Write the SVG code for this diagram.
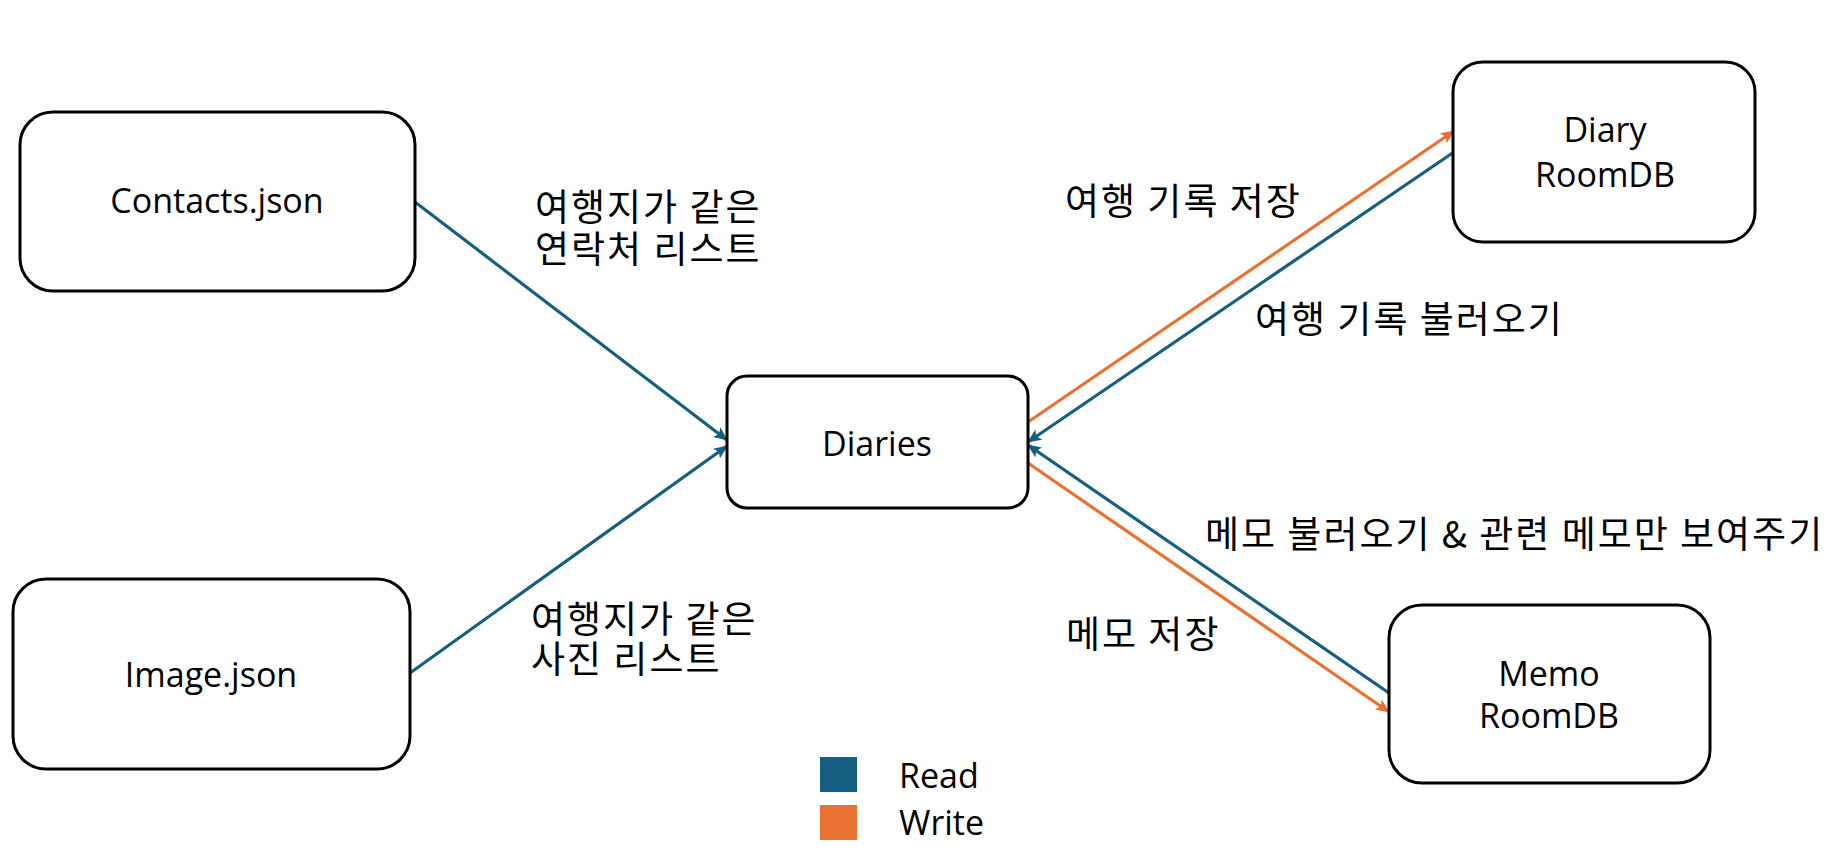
<svg xmlns="http://www.w3.org/2000/svg" width="1833" height="866" viewBox="0 0 1833 866">
<style>
.box{fill:#fff;stroke:#000;stroke-width:3}
.nt{font-family:"Open Sans","Noto Sans",sans-serif;font-size:34px;fill:#000;text-anchor:middle}
.lb{font-family:"Noto Sans CJK KR","Noto Sans",sans-serif;font-size:37px;letter-spacing:2px;fill:#000}
.lg{font-family:"Open Sans","Noto Sans",sans-serif;font-size:34px;fill:#000}
.rd{stroke:#156082;stroke-width:3.2;fill:none}
.wr{stroke:#E97132;stroke-width:3.2;fill:none}
</style>
<defs>
<marker id="ab" markerUnits="userSpaceOnUse" markerWidth="14" markerHeight="12" refX="13" refY="6" orient="auto">
<path d="M0,0 L14,6 L0,12 L3,6 z" fill="#156082"/>
</marker>
<marker id="ao" markerUnits="userSpaceOnUse" markerWidth="14" markerHeight="12" refX="13" refY="6" orient="auto">
<path d="M0,0 L14,6 L0,12 L3,6 z" fill="#E97132"/>
</marker>
</defs>
<rect width="1833" height="866" fill="#fff"/>
<g id="connectors">
<line class="rd" x1="415" y1="202" x2="727" y2="440" marker-end="url(#ab)"/>
<line class="rd" x1="410" y1="673" x2="727" y2="446" marker-end="url(#ab)"/>
<line class="wr" x1="1028" y1="422" x2="1454" y2="131" marker-end="url(#ao)"/>
<line class="rd" x1="1454" y1="152" x2="1028" y2="442" marker-end="url(#ab)"/>
<line class="rd" x1="1389" y1="693" x2="1028" y2="445" marker-end="url(#ab)"/>
<line class="wr" x1="1028" y1="463" x2="1389" y2="712" marker-end="url(#ao)"/>
</g>
<g id="contacts">
<rect class="box" x="20" y="112" width="395" height="179" rx="33"/>
<text class="nt" x="217" y="213">Contacts.json</text>
</g>
<g id="image">
<rect class="box" x="13" y="579" width="397" height="190" rx="33"/>
<text class="nt" x="211" y="687">Image.json</text>
</g>
<g id="diaries">
<rect class="box" x="727" y="376" width="301" height="132" rx="20"/>
<text class="nt" x="877" y="456">Diaries</text>
</g>
<g id="diary-roomdb">
<rect class="box" x="1453" y="62" width="302" height="180" rx="30"/>
<text class="nt" x="1605" y="142">Diary<tspan x="1605" y="187">RoomDB</tspan></text>
</g>
<g id="memo-roomdb">
<rect class="box" x="1389" y="605" width="321" height="178" rx="33"/>
<text class="nt" x="1549" y="686">Memo<tspan x="1549" y="728">RoomDB</tspan></text>
</g>
<g id="labels">
<text class="lb" x="535" y="221">여행지가 같은<tspan x="535" y="263">연락처 리스트</tspan></text>
<text class="lb" x="531" y="633">여행지가 같은<tspan x="531" y="673">사진 리스트</tspan></text>
<text class="lb" x="1065" y="215">여행 기록 저장</text>
<text class="lb" x="1255" y="333">여행 기록 불러오기</text>
<text class="lb" x="1205" y="548">메모 불러오기 &amp; 관련 메모만 보여주기</text>
<text class="lb" x="1066" y="648">메모 저장</text>
</g>
<g id="legend">
<rect x="820" y="757" width="37" height="35" fill="#156082"/>
<rect x="820" y="805" width="37" height="35" fill="#E97132"/>
<text class="lg" x="899" y="788">Read</text>
<text class="lg" x="899" y="835">Write</text>
</g>
</svg>
